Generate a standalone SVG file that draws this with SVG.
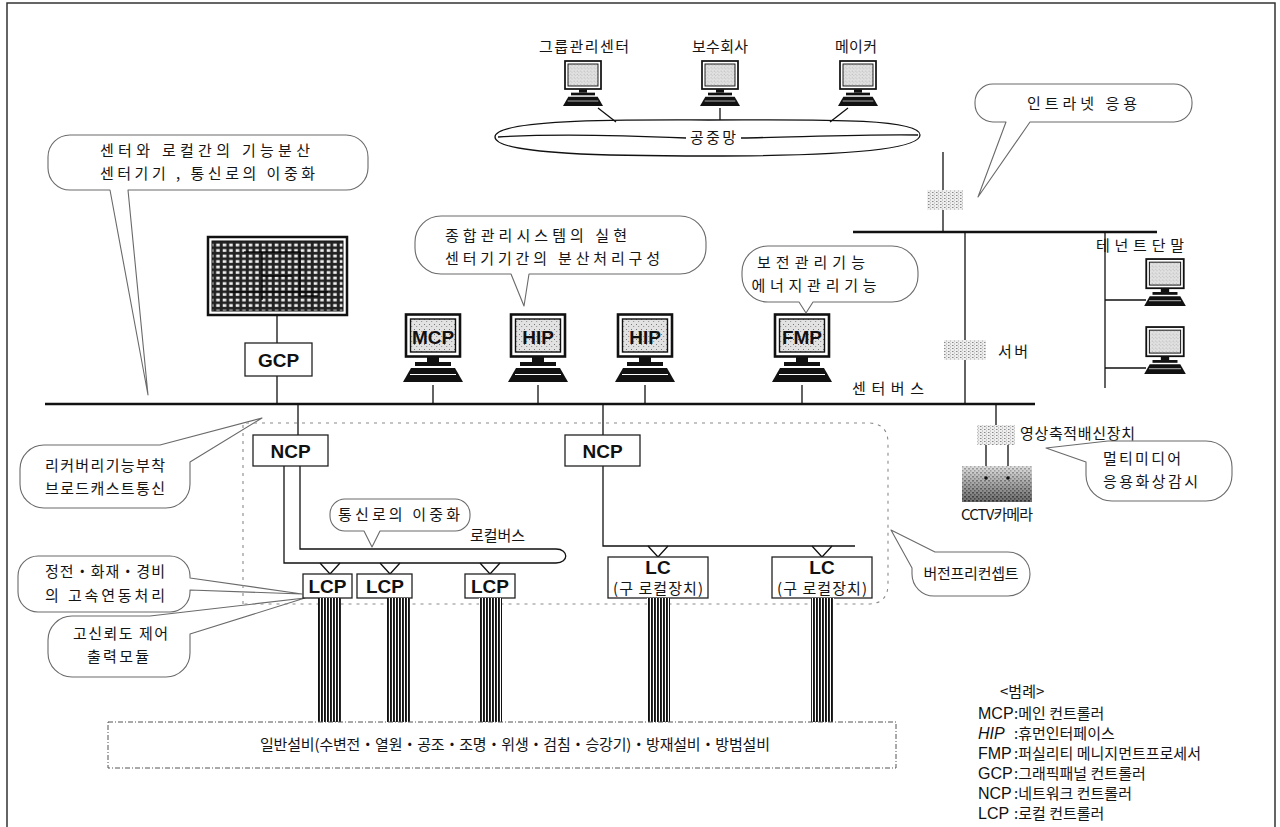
<svg xmlns="http://www.w3.org/2000/svg" width="1280" height="827" viewBox="0 0 1280 827">
<defs>
<style>
  .k{font-family:"Noto Sans CJK KR","Noto Sans",sans-serif;font-size:15px;fill:#141414;}
  .lbl{font-family:"Liberation Sans",Arial,sans-serif;font-weight:bold;font-size:19px;fill:#111;}
  .lg{font-family:"Liberation Sans",Arial,sans-serif;font-size:16px;fill:#111;}
  .ln{stroke:#111;stroke-width:1.3;fill:none;}
  .bus{stroke:#111;stroke-width:2.4;fill:none;}
  .co{fill:#fff;stroke:#6a6a6a;stroke-width:1.1;stroke-linejoin:round;}
  .box{fill:#fff;stroke:#222;stroke-width:1.3;}
  .dash{fill:none;stroke:#8a8a8a;stroke-width:1.1;stroke-dasharray:3 5;}
</style>
<pattern id="speck" width="5" height="5" patternUnits="userSpaceOnUse">
  <rect width="5" height="5" fill="#e2e2e2"/>
  <rect x="1" y="1" width="1" height="1" fill="#777"/>
  <rect x="3" y="3" width="1.2" height="1" fill="#999"/>
</pattern>
<pattern id="dev" width="4" height="3" patternUnits="userSpaceOnUse">
  <rect width="4" height="3" fill="#eee"/>
  <rect x="0" y="0" width="1.5" height="1" fill="#8a8a8a"/>
  <rect x="2" y="1.5" width="1" height="1" fill="#aaa"/>
</pattern>
<pattern id="grid" width="6.5" height="5.5" patternUnits="userSpaceOnUse">
  <rect width="6.5" height="5.5" fill="#222"/>
  <rect x="1.7" y="1.6" width="3.6" height="2.8" fill="#f0f0f0"/>
</pattern>
<pattern id="cable" width="3" height="10" patternUnits="userSpaceOnUse">
  <rect width="3" height="10" fill="#fff"/>
  <rect width="1.9" height="10" fill="#111"/>
</pattern>
<pattern id="cam" width="4" height="4" patternUnits="userSpaceOnUse">
  <rect width="4" height="4" fill="#c4c4c4"/>
  <rect x="0" y="0" width="2" height="1.5" fill="#555"/>
  <rect x="2.2" y="2.2" width="1.2" height="1.2" fill="#333"/>
</pattern>
<linearGradient id="camShade" x1="0" y1="0" x2="0" y2="1">
  <stop offset="0" stop-color="#fff" stop-opacity="0.45"/>
  <stop offset="1" stop-color="#000" stop-opacity="0.45"/>
</linearGradient>
<!-- desktop computer: monitor, stand, keyboard -->
<symbol id="pc" viewBox="0 0 60 72">
  <rect x="3" y="1.5" width="54" height="42" fill="#fff" stroke="#111" stroke-width="2.6"/>
  <rect x="7.5" y="6" width="45" height="33" fill="url(#speck)" stroke="#111" stroke-width="1.4"/>
  <rect x="24" y="44" width="12" height="5" fill="#111"/>
  <rect x="12" y="49" width="36" height="4" fill="#111"/>
  <path d="M8,55 H52 L60,69 H0 Z" fill="#111"/>
  <path d="M7,61.5 H53" stroke="#fff" stroke-width="1"/>
</symbol>
</defs>

<rect width="1280" height="827" fill="#fff"/>
<!-- frame -->
<path d="M7,827 V3 H1275 V827" fill="none" stroke="#333" stroke-width="1.5"/>

<!-- connectors -->
<g id="connectors">
  <!-- public network links -->
  <path class="ln" d="M598,108 L616,122 M720,108 V120 M848,108 L830,122"/>
  <!-- uplink through firewall to upper bus -->
  <path class="ln" d="M943,152 V232"/>
  <path class="bus" d="M853,232 H1157" stroke-width="2"/>
  <path class="ln" d="M965,232 V404 M1105,232 V388 M1105,300 H1146 M1105,368 H1146"/>
  <!-- centre bus -->
  <path class="bus" d="M45,404 H1035"/>
  <path class="ln" d="M277,315 V343 M277,376 V404"/>
  <path class="ln" d="M433,385 V404 M538,385 V404 M645,385 V404 M802,385 V404"/>
  <path class="ln" d="M298,404 V435 M603,404 V435"/>
  <path class="ln" d="M996,404 V425 M986,445 V466 M1008,445 V466"/>
  <!-- local bus (dual loop) -->
  <path class="ln" d="M300,466 V549 H556 C569,549 569,563 556,563 H284 V466"/>
  <path class="ln" d="M320,563 L330,574 L340,563 M380,563 L390,574 L400,563 M480,563 L490,574 L500,563"/>
  <!-- legacy local line -->
  <path class="ln" d="M603,466 V546 H855"/>
  <path class="ln" d="M648,546 L658,557 L668,546 M812,546 L822,557 L832,546"/>
</g>

<!-- public network -->
<g id="public-net">
  <path class="ln" stroke-width="1.4" d="M495,137 C495,118 640,120 708,120 C800,120 920,117 920,135 C920,153 800,156 708,156 C620,156 495,155 495,137 Z"/>
  <path class="ln" d="M498,137 C560,133 640,136 686,138 M741,138 C800,137 870,134 918,135"/>
  <text class="k" x="713" y="143" text-anchor="middle" textLength="46">공중망</text>
</g>

<g id="group-center">
  <text class="k" x="584" y="52" text-anchor="middle" textLength="90">그룹관리센터</text>
  <use href="#pc" x="563" y="60" width="40" height="48"/>
</g>
<g id="maintenance">
  <text class="k" x="720" y="52" text-anchor="middle" textLength="56">보수회사</text>
  <use href="#pc" x="700" y="60" width="40" height="48"/>
</g>
<g id="maker">
  <text class="k" x="856" y="52" text-anchor="middle" textLength="42">메이커</text>
  <use href="#pc" x="838" y="60" width="40" height="48"/>
</g>

<!-- firewall, server and video devices -->
<g id="firewall"><rect x="927" y="190" width="36" height="20" fill="url(#dev)"/></g>
<g id="server">
  <rect x="944" y="340" width="42" height="20" fill="url(#dev)"/>
  <text class="k" x="998" y="357" textLength="30">서버</text>
</g>
<g id="tenant">
  <text class="k" x="1140" y="251" text-anchor="middle" textLength="88">테넌트단말</text>
  <use href="#pc" x="1144" y="258" width="42" height="50"/>
  <use href="#pc" x="1144" y="326" width="42" height="50"/>
</g>
<g id="video">
  <rect x="977" y="425" width="38" height="20" fill="url(#dev)"/>
  <text class="k" x="1020" y="439" textLength="115">영상축적배신장치</text>
</g>
<g id="cctv">
  <rect x="962" y="466" width="70" height="36" fill="url(#cam)"/>
  <rect x="962" y="466" width="70" height="36" fill="url(#camShade)"/>
  <circle cx="986" cy="478" r="1.8" fill="#111"/><circle cx="1008" cy="478" r="1.8" fill="#111"/>
  <text class="k" x="997" y="520" text-anchor="middle" textLength="72">CCTV카메라</text>
</g>

<!-- graphic panel and GCP -->
<g id="panel">
  <rect x="208" y="237" width="139" height="78" fill="#fff" stroke="#111" stroke-width="2.5"/>
  <rect x="212" y="241" width="131" height="70" fill="url(#grid)" stroke="#111"/>
  <path d="M244,252 H300 V262 M262,252 V300 M300,262 V296 H318 M262,276 H292 M230,292 H328" stroke="#000" stroke-width="1.6" fill="none" opacity="0.8"/>
</g>
<g id="gcp">
  <rect class="box" x="245" y="343" width="67" height="33"/>
  <text class="lbl" x="278.5" y="367" text-anchor="middle">GCP</text>
</g>

<!-- centre computers -->
<g id="mcp"><use href="#pc" x="403" y="313" width="60" height="72"/><text class="lbl" x="433" y="344" text-anchor="middle" font-size="21">MCP</text></g>
<g id="hip1"><use href="#pc" x="508" y="313" width="60" height="72"/><text class="lbl" x="538" y="344" text-anchor="middle" font-size="21">HIP</text></g>
<g id="hip2"><use href="#pc" x="615" y="313" width="60" height="72"/><text class="lbl" x="645" y="344" text-anchor="middle" font-size="21">HIP</text></g>
<g id="fmp"><use href="#pc" x="772" y="313" width="60" height="72"/><text class="lbl" x="802" y="344" text-anchor="middle" font-size="21">FMP</text></g>
<text class="k" x="852" y="394" textLength="72">센터버스</text>

<!-- callouts -->
<g id="note-dist">
  <path class="co" d="M128,190 H346 A22 22 0 0 0 368,168 V157 A22 22 0 0 0 346,135 H70 A22 22 0 0 0 48,157 V168 A22 22 0 0 0 70,190 H110 L148,395 Z"/>
  <text class="k" x="100" y="156" textLength="210">센터와 로컬간의 기능분산</text>
  <text class="k" x="100" y="179" textLength="215">센터기기 , 통신로의 이중화</text>
</g>
<g id="note-total">
  <path class="co" d="M529,274 H680 A26 26 0 0 0 706,248 V242 A26 26 0 0 0 680,216 H441 A26 26 0 0 0 415,242 V248 A26 26 0 0 0 441,274 H511 L524,306 Z"/>
  <text class="k" x="445" y="241" textLength="182">종합관리시스템의 실현</text>
  <text class="k" x="445" y="264" textLength="215">센터기기간의 분산처리구성</text>
</g>
<g id="note-fmp">
  <path class="co" d="M813,302 H892 A26 26 0 0 0 918,276 V272 A26 26 0 0 0 892,246 H768 A26 26 0 0 0 742,272 V276 A26 26 0 0 0 768,302 H799 L806,313 Z"/>
  <text class="k" x="811" y="268" text-anchor="middle" textLength="108">보전관리기능</text>
  <text class="k" x="814" y="291" text-anchor="middle" textLength="125">에너지관리기능</text>
</g>
<g id="note-intranet">
  <path class="co" d="M1030,122 H1174 A18 18 0 0 0 1192,104 V102 A18 18 0 0 0 1174,84 H993 A18 18 0 0 0 975,102 V104 A18 18 0 0 0 993,122 H1006 L978,197 Z"/>
  <text class="k" x="1082" y="109" text-anchor="middle" textLength="110">인트라넷  응용</text>
</g>
<g id="note-recovery">
  <path class="co" d="M160,445 L262,418 L190,462 V484 A24 24 0 0 1 166,508 H44 A24 24 0 0 1 20,484 V469 A24 24 0 0 1 44,445 Z"/>
  <text class="k" x="45" y="471" textLength="120">리커버리기능부착</text>
  <text class="k" x="45" y="494" textLength="120">브로드캐스트통신</text>
</g>
<g id="note-dual">
  <path class="co" d="M380,531 H455 A15 15 0 0 0 470,516 V514 A15 15 0 0 0 455,499 H345 A15 15 0 0 0 330,514 V516 A15 15 0 0 0 345,531 H364 L372,547 Z"/>
  <text class="k" x="338" y="520" textLength="122">통신로의  이중화</text>
</g>
<text class="k" x="470" y="541" textLength="55">로컬버스</text>
<g id="note-interlock">
  <path class="co" d="M190,578 V576 A20 20 0 0 0 170,556 H38 A20 20 0 0 0 18,576 V592 A20 20 0 0 0 38,612 H170 A20 20 0 0 0 190,592 V590 L302,594 Z"/>
  <text class="k" x="45" y="577" textLength="120">정전・화재・경비</text>
  <text class="k" x="45" y="601" textLength="120">의  고속연동처리</text>
</g>
<g id="note-output">
  <path class="co" d="M150,616 L305,598 L190,634 V653 A24 24 0 0 1 166,677 H72 A24 24 0 0 1 48,653 V640 A24 24 0 0 1 72,616 Z"/>
  <text class="k" x="73" y="639" textLength="95">고신뢰도  제어</text>
  <text class="k" x="87" y="662" textLength="62">출력모듈</text>
</g>
<g id="note-media">
  <path class="co" d="M1086,462 L1046,448 L1108,441 H1206 A26 26 0 0 1 1232,467 V475 A26 26 0 0 1 1206,501 H1112 A26 26 0 0 1 1086,475 Z"/>
  <text class="k" x="1103" y="464" textLength="78">멀티미디어</text>
  <text class="k" x="1103" y="487" textLength="95">응용화상감시</text>
</g>

<!-- version-free area -->
<path class="dash" d="M243,604 V423 H868 Q888,423 888,443 V584 Q888,604 868,604 Z"/>
<g id="note-free">
  <path class="co" d="M912,568 L891,530 L935,552 H1008 A22 22 0 0 1 1030,574 A22 22 0 0 1 1008,596 H934 A22 22 0 0 1 912,574 Z"/>
  <text class="k" x="971" y="579" text-anchor="middle" textLength="95">버전프리컨셉트</text>
</g>

<!-- network and local controllers -->
<g id="ncp1"><rect class="box" x="253" y="435" width="75" height="31"/><text class="lbl" x="290.5" y="458" text-anchor="middle">NCP</text></g>
<g id="ncp2"><rect class="box" x="565" y="435" width="75" height="31"/><text class="lbl" x="602.5" y="458" text-anchor="middle">NCP</text></g>
<g id="lcp1"><rect class="box" x="303" y="574" width="49" height="24"/><text class="lbl" x="327.5" y="593" text-anchor="middle" font-size="18">LCP</text></g>
<g id="lcp2"><rect class="box" x="357" y="574" width="55" height="24"/><text class="lbl" x="385" y="593" text-anchor="middle" font-size="18">LCP</text></g>
<g id="lcp3"><rect class="box" x="465" y="574" width="50" height="24"/><text class="lbl" x="490" y="593" text-anchor="middle" font-size="18">LCP</text></g>
<g id="lc1"><rect class="box" x="608" y="557" width="100" height="41"/><text class="lbl" x="658" y="574" text-anchor="middle" font-size="18">LC</text><text class="k" x="658" y="594" text-anchor="middle" font-size="13" textLength="90">(구  로컬장치)</text></g>
<g id="lc2"><rect class="box" x="772" y="557" width="100" height="41"/><text class="lbl" x="822" y="574" text-anchor="middle" font-size="18">LC</text><text class="k" x="822" y="594" text-anchor="middle" font-size="13" textLength="90">(구  로컬장치)</text></g>

<!-- field wiring bundles -->
<g id="wiring">
  <rect x="318" y="598" width="23" height="124" fill="url(#cable)"/>
  <rect x="387" y="598" width="23" height="124" fill="url(#cable)"/>
  <rect x="479" y="598" width="23" height="124" fill="url(#cable)"/>
  <rect x="647" y="598" width="23" height="124" fill="url(#cable)"/>
  <rect x="811" y="598" width="23" height="124" fill="url(#cable)"/>
</g>

<!-- building equipment -->
<g id="equipment">
  <rect x="108" y="722" width="788" height="46" fill="#fff" stroke="#555" stroke-width="1" stroke-dasharray="5 2 1 2"/>
  <text class="k" x="515" y="750" text-anchor="middle" textLength="510">일반설비(수변전・열원・공조・조명・위생・검침・승강기)・방재설비・방범설비</text>
</g>

<!-- legend -->
<g id="legend">
  <text class="k" x="1000" y="697">&lt;범례&gt;</text>
  <text class="lg" x="978" y="719">MCP</text><text class="k" x="1014" y="719">:메인  컨트롤러</text>
  <text class="lg" x="978" y="739" font-style="italic">HIP</text><text class="k" x="1014" y="739">:휴먼인터페이스</text>
  <text class="lg" x="978" y="759">FMP</text><text class="k" x="1014" y="759">:퍼실리티  메니지먼트프로세서</text>
  <text class="lg" x="978" y="779">GCP</text><text class="k" x="1014" y="779">:그래픽패널  컨트롤러</text>
  <text class="lg" x="978" y="799">NCP</text><text class="k" x="1014" y="799">:네트워크  컨트롤러</text>
  <text class="lg" x="978" y="819">LCP</text><text class="k" x="1014" y="819">:로컬  컨트롤러</text>
</g>
</svg>
